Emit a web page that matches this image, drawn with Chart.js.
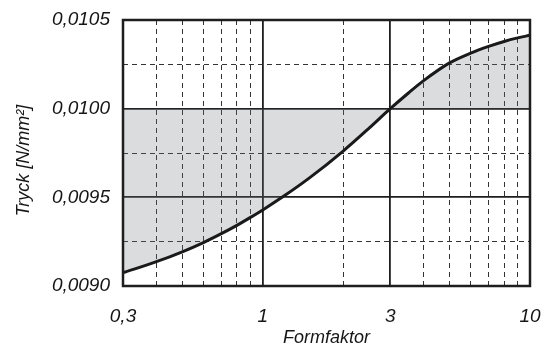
<!DOCTYPE html>
<html>
<head>
<meta charset="utf-8">
<script src="https://cdn.jsdelivr.net/npm/chart.js@4/dist/chart.umd.min.js"></script>
<style>
html,body{margin:0;padding:0;background:#fff;}
#wrap{width:545px;height:347px;position:relative;}
</style>
</head>
<body>
<div id="wrap"><canvas id="c" width="545" height="347"></canvas></div>
<script>
// Data
const formfaktor = [0.3,0.4,0.5,0.6,0.7,0.8,0.9,1,1.2,1.5,2,2.5,3,3.5,4,5,6,7,8,9,10];
const tryck = [0.009075,0.009137,0.009193,0.009245,0.009295,0.009342,0.009387,0.009429,0.009507,0.009611,0.009761,0.009890,0.010000,0.010087,0.010158,0.010258,0.010313,0.010351,0.010379,0.010399,0.010414];
const referenceLevel = 0.0100;

// Axis ticks / grid
const xGridValues = [0.3,0.4,0.5,0.6,0.7,0.8,0.9,1,2,3,4,5,6,7,8,9,10];
const xMajorValues = [1,3];
const xLabelValues = [0.3,1,3,10];
const xLabelTexts = ['0,3','1','3','10'];
const yGridValues = [0.0090,0.00925,0.0095,0.00975,0.0100,0.01025,0.0105];
const yMajorValues = [0.0095,0.0100];
const yLabelValues = [0.0090,0.0095,0.0100,0.0105];
const yLabelTexts = ['0,0090','0,0095','0,0100','0,0105'];

const near = (a,b)=>Math.abs(a-b) < 1e-9;
const FONT = "'Liberation Sans', Arial, sans-serif";

const framePlugin = {
  id:'frame',
  afterDraw(chart){
    const {ctx, chartArea:a} = chart;
    ctx.save();
    ctx.strokeStyle = '#1e1e1e';
    ctx.lineWidth = 2.5;
    ctx.strokeRect(a.left, a.top, a.right-a.left, a.bottom-a.top);
    ctx.restore();
  }
};

function gridColor(ctx, majors, bounds){
  const v = ctx.tick ? ctx.tick.value : null;
  if (v === null) return 'rgba(0,0,0,0)';
  if (bounds.some(b=>near(b,v))) return 'rgba(0,0,0,0)';
  if (majors.some(m=>near(m,v))) return '#1e1e1e';
  return '#333333';
}
function gridWidth(ctx, majors){
  const v = ctx.tick ? ctx.tick.value : null;
  if (v !== null && majors.some(m=>near(m,v))) return 1.8;
  return 1;
}
function gridDash(ctx, majors){
  const v = ctx.tick ? ctx.tick.value : null;
  if (v === null) return [];
  if (majors.some(m=>near(m,v))) return [];
  return [5,4];
}

new Chart(document.getElementById('c'), {
  type:'line',
  data:{
    datasets:[{
      data: formfaktor.map((x,i)=>({x:x, y:tryck[i]})),
      borderColor:'#1a1a1a',
      borderWidth:3,
      pointRadius:0,
      cubicInterpolationMode:'monotone',
      fill:{value:referenceLevel},
      backgroundColor:'rgba(110,115,125,0.25)'
    }]
  },
  options:{
    responsive:false,
    animation:false,
    devicePixelRatio:1,
    layout:{padding:{left:0,right:15,top:20,bottom:0}},
    plugins:{legend:{display:false}, tooltip:{enabled:false}},
    scales:{
      x:{
        type:'logarithmic',
        min:0.3, max:10,
        afterBuildTicks(scale){ scale.ticks = xGridValues.map(v=>({value:v})); },
        afterFit(scale){ scale.height = 61; scale.paddingLeft = 0; scale.paddingRight = 0; },
        grid:{
          drawTicks:false,
          color:(c)=>gridColor(c, xMajorValues, [0.3,10]),
          lineWidth:(c)=>gridWidth(c, xMajorValues)
        },
        border:{display:false, dash:(c)=>gridDash(c, xMajorValues)},
        ticks:{
          autoSkip:false, maxRotation:0, padding:19,
          color:'#161616',
          font:{family:FONT, size:19, style:'italic'},
          callback:(v)=>{ const i = xLabelValues.findIndex(t=>near(t,v)); return i>=0 ? xLabelTexts[i] : ''; }
        },
        title:{display:true, text:'Formfaktor', color:'#161616', padding:{top:0,bottom:-2},
          font:{family:FONT, size:18, style:'italic'}}
      },
      y:{
        min:0.0090, max:0.0105,
        afterBuildTicks(scale){ scale.ticks = yGridValues.map(v=>({value:v})); },
        afterFit(scale){ scale.width = 123; scale.paddingTop = 0; scale.paddingBottom = 0; },
        grid:{
          drawTicks:false,
          color:(c)=>gridColor(c, yMajorValues, [0.0090,0.0105]),
          lineWidth:(c)=>gridWidth(c, yMajorValues)
        },
        border:{display:false, dash:(c)=>gridDash(c, yMajorValues)},
        ticks:{
          autoSkip:false, padding:13,
          color:'#161616',
          font:{family:FONT, size:19, style:'italic'},
          callback:(v)=>{ const i = yLabelValues.findIndex(t=>near(t,v)); return i>=0 ? yLabelTexts[i] : ''; }
        },
        title:{display:true, text:'Tryck [N/mm²]\u00a0\u00a0\u00a0', color:'#161616', padding:{top:13,bottom:0},
          font:{family:FONT, size:18, style:'italic'}}
      }
    }
  },
  plugins:[framePlugin]
});
</script>
</body>
</html>
